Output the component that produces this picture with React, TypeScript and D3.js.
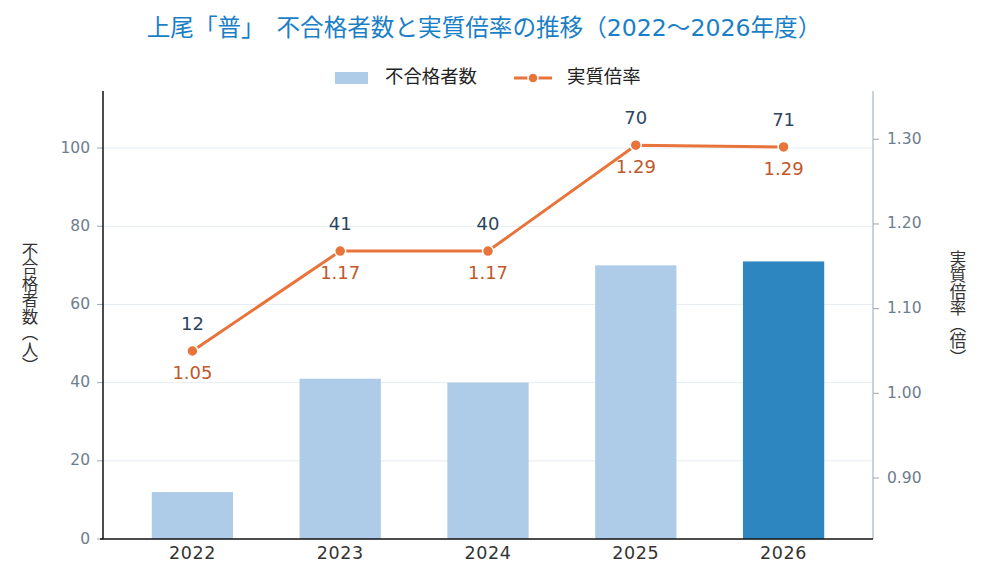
import { useEffect } from 'react';
import * as d3 from 'd3';

// ─── Data ──────────────────────────────────────────────────

const YEARS = ['2022', '2023', '2024', '2025', '2026'];
const FAILED = [12, 41, 40, 70, 71];
const RATIO = [1.05, 1.168, 1.168, 1.293, 1.291];
const LEFT_TICKS = [0, 20, 40, 60, 80, 100];
const RIGHT_TICKS = [0.9, 1.0, 1.1, 1.2, 1.3];

// ─── Constants ──────────────────────────────────────────────

const W = 988;
const H = 585;
const PLOT = { left: 103, right: 873, top: 91, bottom: 539 };
const FONT = '"DejaVu Sans", "Noto Sans CJK JP", sans-serif';
const CJK = '"Noto Sans CJK JP", sans-serif';

const BAR_LIGHT = '#aecce7';
const BAR_DARK = '#2e86c1';
const LINE_COLOR = '#e8743b';
const RATIO_LABEL = '#c0582a';
const COUNT_LABEL = '#2c4660';
const TICK_COLOR = '#6e7d8e';
const GRID = '#e6ecf3';

export default function App() {
  useEffect(() => {
    document.body.style.margin = '0';
  }, []);

  const x = d3.scaleBand<string>()
    .domain(YEARS)
    .range([PLOT.left, PLOT.right])
    .paddingInner(0.45)
    .paddingOuter(0.33);

  const yL = d3.scaleLinear().domain([0, 114.6]).range([PLOT.bottom, PLOT.top]);
  const yR = d3.scaleLinear().domain([0.828, 1.357]).range([PLOT.bottom, PLOT.top]);

  const cx = (y: string) => (x(y) ?? 0) + x.bandwidth() / 2;

  const line = d3.line<number>()
    .x((_, i) => cx(YEARS[i]))
    .y((d) => yR(d));

  const vertical = { writingMode: 'vertical-rl', textOrientation: 'upright' } as any;

  return (
    <svg width={W} height={H} style={{ display: 'block', fontFamily: FONT }}>
      <rect width={W} height={H} fill="#fff" />

      {/* Title */}
      <text x={484} y={29} textAnchor="middle" dominantBaseline="middle"
        fontSize={23.6} fill="#1b7fc6">
        上尾「普」　不合格者数と実質倍率の推移（2022〜2026年度）
      </text>

      {/* Legend */}
      <rect x={335} y={72} width={33} height={12} fill={BAR_LIGHT} />
      <text x={385} y={78} dominantBaseline="middle" fontSize={18.4} fill="#222"
        fontFamily={CJK}>不合格者数</text>
      <line x1={514} x2={552} y1={78} y2={78} stroke={LINE_COLOR} strokeWidth={3} />
      <circle cx={533} cy={78} r={5} fill={LINE_COLOR} stroke="#fff" strokeWidth={1.5} />
      <text x={567} y={78} dominantBaseline="middle" fontSize={18.4} fill="#222"
        fontFamily={CJK}>実質倍率</text>

      {/* Grid */}
      {LEFT_TICKS.filter((t) => t > 0).map((t) => (
        <line key={t} x1={PLOT.left} x2={PLOT.right} y1={yL(t)} y2={yL(t)}
          stroke={GRID} strokeWidth={1} />
      ))}

      {/* Bars */}
      {YEARS.map((yr, i) => (
        <rect key={yr} x={x(yr)} y={yL(FAILED[i])} width={x.bandwidth()}
          height={yL(0) - yL(FAILED[i])}
          fill={i === YEARS.length - 1 ? BAR_DARK : BAR_LIGHT} />
      ))}

      {/* Left axis */}
      {LEFT_TICKS.map((t) => (
        <g key={t}>
          <line x1={PLOT.left - 6} x2={PLOT.left} y1={yL(t)} y2={yL(t)} stroke="#9aa6b4" />
          <text x={PLOT.left - 13} y={yL(t)} textAnchor="end" dominantBaseline="middle"
            fontSize={15.5} fill={TICK_COLOR}>{t}</text>
        </g>
      ))}
      <line x1={PLOT.left} x2={PLOT.left} y1={PLOT.top} y2={PLOT.bottom}
        stroke="#111" strokeWidth={1.5} />

      {/* Right axis */}
      <line x1={PLOT.right} x2={PLOT.right} y1={PLOT.top} y2={PLOT.bottom}
        stroke="#b9c4d0" strokeWidth={1.5} />
      {RIGHT_TICKS.map((t) => (
        <g key={t}>
          <line x1={PLOT.right} x2={PLOT.right + 6} y1={yR(t)} y2={yR(t)} stroke="#9aa6b4" />
          <text x={PLOT.right + 14} y={yR(t)} dominantBaseline="middle"
            fontSize={15.5} fill={TICK_COLOR}>{t.toFixed(2)}</text>
        </g>
      ))}

      {/* Bottom axis */}
      <line x1={PLOT.left - 3} x2={PLOT.right} y1={PLOT.bottom} y2={PLOT.bottom}
        stroke="#111" strokeWidth={1.5} />
      {YEARS.map((yr) => (
        <text key={yr} x={cx(yr)} y={554} textAnchor="middle" dominantBaseline="middle"
          fontSize={17.5} letterSpacing={0.6} fill="#333">{yr}</text>
      ))}

      {/* Axis titles */}
      <text x={30} y={308} textAnchor="middle" fontSize={16.5} fill="#333"
        fontFamily={CJK} style={vertical}>
        不合格者数（人）
      </text>
      <text x={958} y={308} textAnchor="middle" fontSize={16.5} fill="#333"
        fontFamily={CJK} style={vertical}>
        実質倍率（倍）
      </text>

      {/* Ratio line */}
      <path d={line(RATIO) ?? ''} fill="none" stroke={LINE_COLOR} strokeWidth={3} />
      {YEARS.map((yr, i) => (
        <circle key={yr} cx={cx(yr)} cy={yR(RATIO[i])} r={5.5}
          fill={LINE_COLOR} stroke="#fff" strokeWidth={1.5} />
      ))}

      {/* Value labels */}
      {YEARS.map((yr, i) => (
        <g key={yr}>
          <text x={cx(yr)} y={yR(RATIO[i]) - 26} textAnchor="middle" dominantBaseline="middle"
            fontSize={18} fill={COUNT_LABEL}>{FAILED[i]}</text>
          <text x={cx(yr)} y={yR(RATIO[i]) + 23} textAnchor="middle" dominantBaseline="middle"
            fontSize={18} fill={RATIO_LABEL}>{RATIO[i].toFixed(2)}</text>
        </g>
      ))}
    </svg>
  );
}
